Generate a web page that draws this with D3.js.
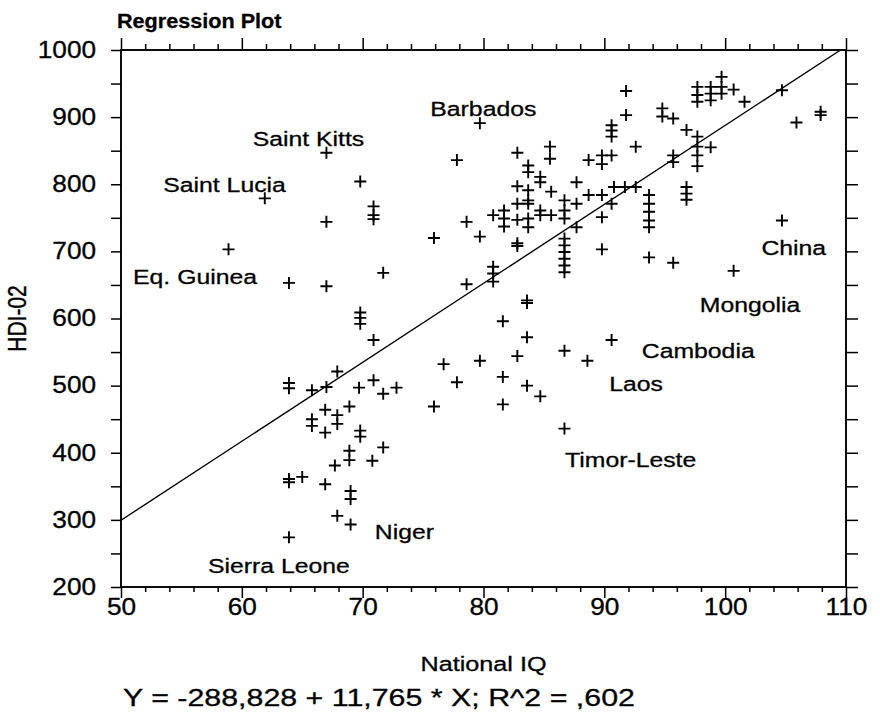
<!DOCTYPE html>
<html>
<head>
<meta charset="utf-8">
<script src="https://cdn.jsdelivr.net/npm/d3@7/dist/d3.min.js"></script>
<style>
  body { margin: 0; background: #fff; }
  text { font-family: "Liberation Sans", Arial, sans-serif; fill: #000; stroke: #000; stroke-width: 0.3; }
</style>
</head>
<body>
<script>
// national IQ (x) and HDI-02 * 1000 (y)
const iq = [
  61.9, 67.0, 67.0, 69.8, 58.9, 63.9, 67.0, 71.7, 70.9, 70.9, 70.9, 69.8, 69.8, 69.8, 70.9,
  63.9, 63.9, 65.8, 67.0, 67.9, 66.9, 67.9, 67.9, 68.9, 65.8, 65.8, 66.9, 69.8, 69.8, 68.9,
  68.9, 67.7, 70.8, 71.7, 66.9, 69.0, 69.0, 67.9, 69.0, 63.9, 63.9, 65.0, 63.9, 69.7, 70.9,
  71.7, 72.8,
  75.9, 76.7, 77.8, 79.7, 81.6, 81.6, 82.8, 83.6, 84.7, 83.6, 83.6, 83.6, 81.6, 80.8, 80.8,
  80.8, 78.6, 86.7, 86.7, 88.6, 90.6, 89.8, 93.7, 95.7, 100.7, 104.7,
  86.7, 86.7, 86.7, 86.7, 86.7, 86.7,
  79.7, 82.8, 85.5, 85.5, 83.7, 83.7, 84.7, 84.7, 85.6, 82.8, 83.7, 83.7, 83.7, 82.8, 80.8,
  81.7, 81.7, 82.8, 83.7, 81.7, 83.7, 84.7, 84.7, 85.6, 86.7, 86.7, 86.7, 87.7, 87.7, 88.7,
  89.8, 89.8, 88.7, 89.8, 87.7, 89.8, 82.8, 82.8, 79.7, 78.6, 75.9, 77.8,
  91.8, 91.8, 90.6, 90.6, 90.6, 90.6, 92.6, 94.8, 94.8, 95.7, 96.8, 97.7, 97.7, 97.7, 98.8,
  97.7, 95.7, 95.7, 96.8, 96.8, 96.8, 93.7, 93.7, 93.7, 93.7, 93.7, 92.6, 91.7, 90.8, 90.6,
  97.7, 97.7, 97.7, 98.8, 98.8, 98.8, 99.7, 99.7, 99.7, 100.7, 101.6, 104.7, 105.9, 107.9, 107.9
];
const hdi = [
  779, 847, 744, 804, 703, 653, 648, 668, 767, 754, 748, 609, 601, 592, 568,
  504, 496, 493, 498, 521, 464, 456, 443, 469, 450, 440, 430, 433, 424, 403,
  389, 381, 388, 408, 353, 343, 331, 306, 293, 361, 356, 364, 274, 497, 508,
  488, 497,
  469, 532, 505, 537, 513, 472, 544, 500, 484, 572, 627, 623, 596, 677, 667,
  655, 651, 552, 436, 537, 568, 703, 691, 683, 671, 746,
  719, 709, 699, 689, 679, 669,
  891, 847, 856, 838, 828, 818, 811, 803, 789, 797, 791, 776, 771, 771, 754,
  761, 749, 747, 749, 737, 736, 761, 754, 754, 776, 761, 749, 771, 803, 836,
  843, 830, 784, 784, 736, 751, 712, 708, 722, 744, 720, 836,
  939, 903, 888, 880, 871, 843, 856, 913, 901, 898, 881, 871, 856, 843, 855,
  827, 843, 833, 796, 786, 777, 784, 771, 759, 746, 736, 796, 796, 796, 771,
  945, 933, 923, 945, 935, 925, 960, 945, 935, 941, 923, 940, 892, 908, 903
];

// country labels, anchored at the start of their baseline
const labelNames = ['Saint Kitts', 'Saint Lucia', 'Barbados', 'Eq. Guinea', 'Sierra Leone', 'Niger',
  'Timor-Leste', 'Laos', 'Cambodia', 'Mongolia', 'China'];
const labelIQ = [60.9, 53.5, 75.6, 51.0, 57.2, 71.0, 86.75, 90.4, 93.1, 97.9, 103.0];
const labelHDI = [857, 788, 901, 652, 221, 271, 379, 492, 541, 609, 695];

const xTickLabels = [50, 60, 70, 80, 90, 100, 110];
const yTickLabels = [200, 300, 400, 500, 600, 700, 800, 900, 1000];

const intercept = -288.828;
const slope = 11.765;

const svg = d3.select('body').append('svg')
  .attr('width', 880)
  .attr('height', 717);

const x = d3.scaleLinear().domain([50, 110]).range([121, 846]);
const y = d3.scaleLinear().domain([200, 1000]).range([587, 50]);

const xMinor = d3.range(50, 110.1, 2).filter(d => !xTickLabels.includes(d));
const yAll = d3.range(200, 1000.1, 50);

function tidy(g) {
  g.select('.domain').remove();
  g.selectAll('line').attr('stroke', '#000').attr('stroke-width', 1.5);
  g.attr('font-size', 23);
  g.selectAll('text').attr('transform', 'scale(1.14,1)');
}

// left axis
svg.append('g').attr('transform', `translate(${x(50)},0)`)
  .call(d3.axisLeft(y).tickValues(yAll).tickSize(10).tickPadding(11.9)
    .tickFormat(d => yTickLabels.includes(d) ? d : ''))
  .call(tidy);

// right axis
svg.append('g').attr('transform', `translate(${x(110)},0)`)
  .call(d3.axisRight(y).tickValues(yAll).tickSize(12).tickFormat(''))
  .call(tidy);

// bottom axis
svg.append('g').attr('transform', `translate(0,${y(200)})`)
  .call(d3.axisBottom(x).tickValues(xTickLabels).tickSize(11).tickPadding(1))
  .call(tidy);
svg.append('g').attr('transform', `translate(0,${y(200)})`)
  .call(d3.axisBottom(x).tickValues(xMinor).tickSize(5).tickFormat(''))
  .call(tidy);

// top axis
svg.append('g').attr('transform', `translate(0,${y(1000)})`)
  .call(d3.axisTop(x).tickValues(xTickLabels).tickSize(12).tickFormat(''))
  .call(tidy);
svg.append('g').attr('transform', `translate(0,${y(1000)})`)
  .call(d3.axisTop(x).tickValues(xMinor).tickSize(6).tickFormat(''))
  .call(tidy);

// frame
svg.append('rect')
  .attr('x', x(50)).attr('y', y(1000))
  .attr('width', x(110) - x(50)).attr('height', y(200) - y(1000))
  .attr('fill', 'none').attr('stroke', '#000').attr('stroke-width', 1.9);

// regression line, stopped at the top of the frame
const xEnd = (1000 - intercept) / slope;
svg.append('line')
  .attr('x1', x(50)).attr('y1', y(intercept + slope * 50))
  .attr('x2', x(xEnd)).attr('y2', y(intercept + slope * xEnd))
  .attr('stroke', '#000').attr('stroke-width', 1.4);

// points as plus marks
svg.append('g').selectAll('path')
  .data(d3.range(iq.length))
  .enter().append('path')
  .attr('transform', i => `translate(${x(iq[i])},${y(hdi[i])})`)
  .attr('d', 'M-6,0H6M0,-6V6')
  .attr('stroke', '#000')
  .attr('stroke-width', 1.9)
  .attr('fill', 'none');

// country labels
svg.append('g').selectAll('text')
  .data(labelNames)
  .enter().append('text')
  .attr('transform', (d, i) => `translate(${x(labelIQ[i])},${y(labelHDI[i])}) scale(1.18,1)`)
  .attr('font-size', 21)
  .text(d => d);

// titles
svg.append('text')
  .attr('transform', 'translate(117,28) scale(1.03,1)')
  .attr('font-size', 21).attr('font-weight', 'bold')
  .text('Regression Plot');

svg.append('text')
  .attr('transform', `translate(${(x(50) + x(110)) / 2},671) scale(1.2,1)`)
  .attr('text-anchor', 'middle')
  .attr('font-size', 21)
  .text('National IQ');

svg.append('text')
  .attr('transform', `translate(26,${(y(200) + y(1000)) / 2}) rotate(-90) scale(1,1.2)`)
  .attr('text-anchor', 'middle')
  .attr('font-size', 21)
  .text('HDI-02');

svg.append('text')
  .attr('transform', 'translate(123,706) scale(1.24,1)')
  .attr('font-size', 24.5)
  .text('Y = -288,828 + 11,765 * X; R^2 = ,602');
</script>
</body>
</html>
